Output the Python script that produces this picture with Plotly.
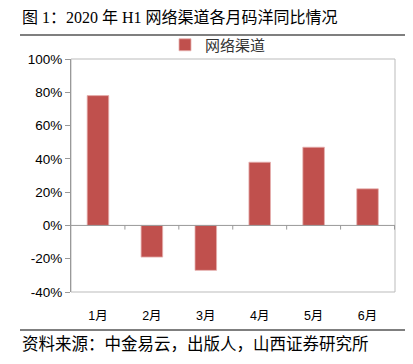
import plotly.graph_objects as go

months = ["1月", "2月", "3月", "4月", "5月", "6月"]
values = [0.78, -0.19, -0.27, 0.38, 0.47, 0.22]
series_name = "网络渠道"
y_ticks = [-0.4, -0.2, 0, 0.2, 0.4, 0.6, 0.8, 1.0]
y_tick_labels = ["-40%", "-20%", "0%", "20%", "40%", "60%", "80%", "100%"]

# page body has an 8px margin; figure coordinates are offset accordingly
O = 8
W, H = 413 - 2 * O, 364 - 2 * O
L = 71 - O
T = 59 - O
R = W - (395 - O)
B = H - (292 - O)
PW, PH = W - L - R, H - T - B

fig = go.Figure()
fig.add_trace(go.Bar(
    x=months, y=values, name=series_name,
    marker=dict(color="#C0504D", line=dict(color="#E6B0AE", width=0.8)),
    width=0.4,
))

fig.update_layout(
    width=W, height=H,
    margin=dict(l=L, r=R, t=T, b=B, autoexpand=False),
    paper_bgcolor="white", plot_bgcolor="white",
    showlegend=True,
    legend=dict(orientation="h", x=0.5 - 15 / PW, xanchor="center",
                yref="container", y=1 - (45 - O) / H, yanchor="middle",
                font=dict(family="Noto Sans CJK SC", size=15, color="#333"),
                bgcolor="rgba(0,0,0,0)"),
    font=dict(family="Liberation Sans, Noto Sans CJK SC", size=12, color="#000"),
)

fig.update_yaxes(
    range=[-0.4, 1.0], tickvals=y_ticks, ticktext=y_tick_labels,
    showgrid=False, zeroline=False, showline=True, linecolor="#999", linewidth=1,
    ticks="outside", ticklen=5, tickcolor="#999",
    tickfont=dict(family="Liberation Sans", size=13.5, color="#000"),
    automargin=False,
)
fig.update_xaxes(
    showgrid=False, showline=False, ticks="",
    tickfont=dict(family="Liberation Sans, Noto Sans CJK SC", size=12.5, color="#000"),
    ticklabelstandoff=14, automargin=False,
)

# zero line with category boundary ticks
fig.add_hline(y=0, line=dict(color="#999", width=1))
for i in range(1, len(months) + 1):
    fig.add_shape(type="line", xref="x", yref="y", x0=i - 0.5, x1=i - 0.5,
                  y0=0, y1=-0.025, line=dict(color="#999", width=1))

# plot frame
fig.add_shape(type="rect", xref="paper", yref="paper", x0=0, x1=1, y0=0, y1=1,
              line=dict(color="#BBBBBB", width=1), layer="below")

def px_x(x):
    return (x - O - L) / PW

def px_y(y):
    return 1 - (y - O - T) / PH

# title
fig.add_annotation(text="图 1：2020 年 H1 网络渠道各月码洋同比情况",
                   xref="paper", yref="paper", x=px_x(20), y=px_y(17),
                   xanchor="left", yanchor="middle", showarrow=False,
                   font=dict(family="Liberation Serif, Noto Sans CJK SC", size=16, color="#000"))
# source
fig.add_annotation(text="资料来源：中金易云，出版人，山西证券研究所",
                   xref="paper", yref="paper", x=px_x(20), y=px_y(343),
                   xanchor="left", yanchor="middle", showarrow=False,
                   font=dict(family="Noto Sans CJK SC", size=16.5, color="#000"))

# separator lines
for yy in (35, 330):
    fig.add_shape(type="line", xref="paper", yref="paper",
                  x0=px_x(20), x1=px_x(405), y0=px_y(yy), y1=px_y(yy),
                  line=dict(color="#555", width=1.5))

fig.write_html("out.html")
